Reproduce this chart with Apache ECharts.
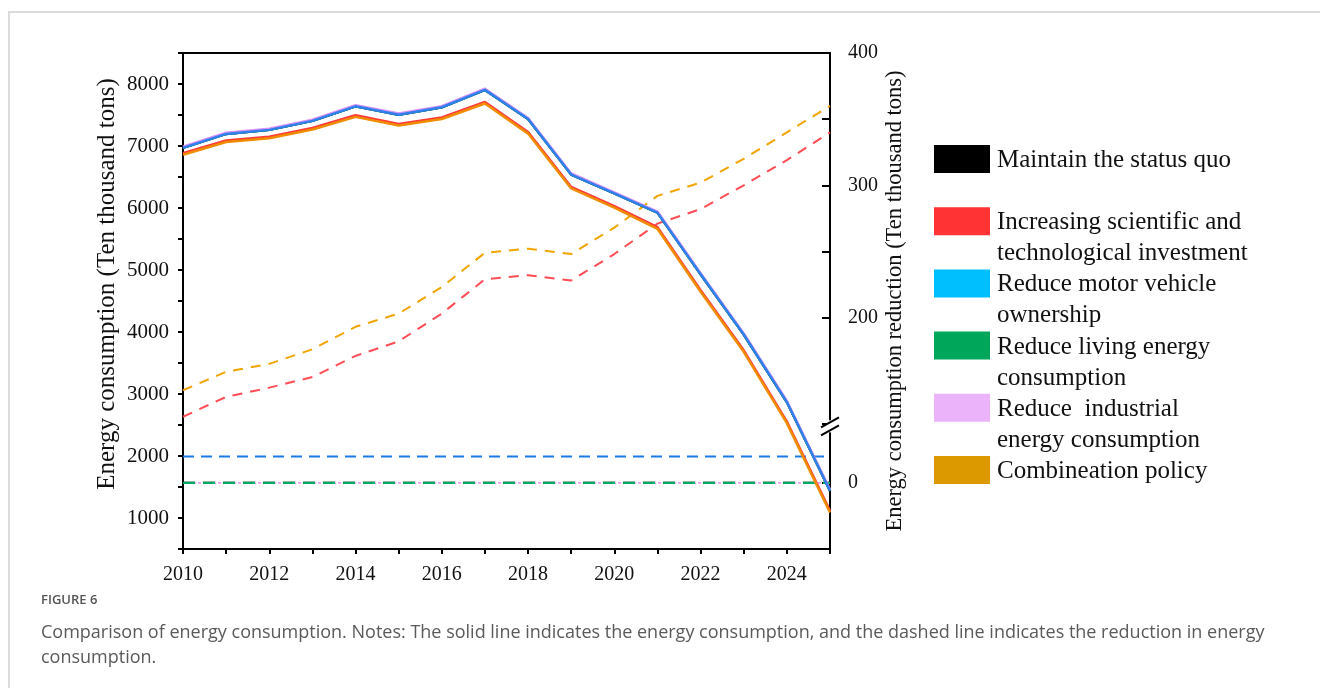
<!DOCTYPE html>
<html>
<head>
<meta charset="utf-8">
<script src="https://cdn.jsdelivr.net/npm/echarts@6/dist/echarts.min.js"></script>
<style>
  html, body { margin: 0; padding: 0; background: #ffffff; }
  #chart { width: 1320px; height: 688px; }
</style>
</head>
<body>
<div id="chart"></div>
<script>
// Years on the horizontal axis
const years = ['2010', '2011', '2012', '2013', '2014', '2015', '2016', '2017',
               '2018', '2019', '2020', '2021', '2022', '2023', '2024', '2025'];

// Energy consumption (solid lines, left axis, ten thousand tons)
const statusQuoUse   = [6970, 7195, 7260, 7405, 7640, 7505, 7625, 7905, 7435, 6540, 6235, 5925, 4930, 3960, 2870, 1440];
const scienceUse     = [6885, 7090, 7150, 7290, 7495, 7355, 7460, 7710, 7225, 6340, 6030, 5690, 4675, 3705, 2555, 1115];
const vehicleUse     = [6970, 7195, 7260, 7405, 7640, 7505, 7625, 7905, 7435, 6540, 6235, 5925, 4930, 3960, 2870, 1440];
const livingUse      = [6970, 7195, 7260, 7405, 7640, 7505, 7625, 7905, 7435, 6540, 6235, 5925, 4930, 3960, 2870, 1440];
const industrialUse  = [6988, 7213, 7278, 7423, 7658, 7523, 7643, 7923, 7453, 6558, 6253, 5943, 4948, 3978, 2888, 1458];
const combinedUse    = [6860, 7065, 7125, 7265, 7470, 7330, 7435, 7685, 7200, 6315, 6005, 5665, 4650, 3680, 2530, 1090];

// Reduction in energy consumption (dashed lines, right axis, ten thousand tons)
const statusQuoCut   = [0, 0, 0, 0, 0, 0, 0, 0, 0, 0, 0, 0, 0, 0, 0, 0];
const scienceCut     = [125, 140, 147, 155, 171, 182, 203, 229, 232, 228, 248, 271, 282, 300, 319, 340];
const vehicleCut     = [20, 20, 20, 20, 20, 20, 20, 20, 20, 20, 20, 20, 20, 20, 20, 20];
const livingCut      = [0, 0, 0, 0, 0, 0, 0, 0, 0, 0, 0, 0, 0, 0, 0, 0];
const industrialCut  = [0, 0, 0, 0, 0, 0, 0, 0, 0, 0, 0, 0, 0, 0, 0, 0];
const combinedCut    = [145, 159, 165, 176, 193, 203, 223, 249, 252, 248, 268, 292, 302, 320, 340, 360];

// Policy scenarios and their legend text (wrapped)
const policies = [
  'Maintain the status quo',
  'Increasing scientific and technological investment',
  'Reduce motor vehicle ownership',
  'Reduce living energy consumption',
  'Reduce  industrial energy consumption',
  'Combineation policy'
];
const legendLines = [
  'Maintain the status quo\n ',
  'Increasing scientific and\ntechnological investment',
  'Reduce motor vehicle\nownership',
  'Reduce living energy\nconsumption',
  'Reduce  industrial\nenergy consumption',
  'Combineation policy\n '
];
const swatchColors = ['#000000', '#ff3333', '#00bfff', '#00a65a', '#ebb4fa', '#dd9900'];

// Tick labels
const leftLabels  = [1000, 2000, 3000, 4000, 5000, 6000, 7000, 8000];
const rightLabels = [0, 200, 300, 400];

// Collapsed stretch of the reduction axis
const breakStart = 45;
const breakEnd = 120;

const serif = 'Liberation Serif';

function solid(name, data, color, width) {
  return {
    name, type: 'line', data, xAxisIndex: 0, yAxisIndex: 0,
    symbol: 'none', silent: true,
    lineStyle: { color, width }, itemStyle: { color }
  };
}
function dashed(name, data, color, dash, width) {
  return {
    name, type: 'line', data, xAxisIndex: 0, yAxisIndex: 1,
    symbol: 'none', silent: true,
    lineStyle: { color, width, type: dash }, itemStyle: { color }
  };
}

const chart = echarts.init(document.getElementById('chart'), null, { renderer: 'canvas' });

const option = {
  animation: false,
  backgroundColor: '#ffffff',
  title: {
    left: 41, top: 594, padding: 0,
    text: 'FIGURE 6',
    textStyle: { fontFamily: 'Open Sans', fontSize: 13, fontWeight: 600, color: '#555555' },
    subtext: 'Comparison of energy consumption. Notes: The solid line indicates the energy consumption, and the dashed line indicates the reduction in energy\nconsumption.',
    subtextStyle: { fontFamily: 'Open Sans', fontSize: 18, lineHeight: 25, color: '#5a5a5a' },
    itemGap: 13
  },
  grid: { left: 180, right: 490, top: 53, bottom: 139, containLabel: false },
  legend: {
    orient: 'vertical', left: 934, top: 145, padding: 0,
    itemWidth: 56, itemHeight: 62, itemGap: 0.2,
    icon: 'path://M0,0L56,0L56,28L0,28Z M0,62L0.01,62',
    itemStyle: { borderWidth: 0 },
    selectedMode: false,
    textStyle: { fontFamily: serif, fontSize: 25, lineHeight: 31, color: '#111111', padding: [0, 0, 0, 2] },
    formatter: name => legendLines[policies.indexOf(name)],
    data: policies.map((n, i) => ({ name: n, itemStyle: { color: swatchColors[i] } }))
  },
  xAxis: [
    {
      type: 'category', data: years, boundaryGap: false, position: 'bottom',
      axisLine: { onZero: false, lineStyle: { color: '#000', width: 2 } },
      axisTick: { show: true, interval: 0, length: 5, lineStyle: { color: '#000', width: 2 } },
      axisLabel: { interval: 1, margin: 16, fontFamily: serif, fontSize: 20, color: '#111' },
      splitLine: { show: false }
    },
    {
      type: 'category', data: years, boundaryGap: false, position: 'top',
      axisLine: { onZero: false, lineStyle: { color: '#000', width: 2 } },
      axisTick: { show: false }, axisLabel: { show: false }, splitLine: { show: false }
    }
  ],
  yAxis: [
    {
      type: 'value', min: 500, max: 8500, interval: 500, position: 'left',
      axisLine: { show: true, onZero: false, lineStyle: { color: '#000', width: 2 } },
      axisTick: { show: true, length: 5, lineStyle: { color: '#000', width: 2 } },
      axisLabel: {
        margin: 14, fontFamily: serif, fontSize: 21, color: '#111',
        formatter: v => leftLabels.includes(v) ? String(v) : ''
      },
      splitLine: { show: false },
      name: 'Energy consumption (Ten thousand tons)',
      nameLocation: 'middle', nameGap: 63,
      nameTextStyle: { fontFamily: serif, fontSize: 25, color: '#111', padding: [0, 0, 0, 34] }
    },
    {
      type: 'value', min: -50, max: 400, interval: 50, position: 'right',
      breaks: [{ start: breakStart, end: breakEnd, gap: 0 }],
      breakArea: { show: false },
      axisLine: { show: true, onZero: false, lineStyle: { color: '#000', width: 2 } },
      axisTick: { show: true, inside: true, length: 8, lineStyle: { color: '#000', width: 2 } },
      axisLabel: {
        margin: 18, fontFamily: serif, fontSize: 20, color: '#111',
        formatter: v => rightLabels.includes(v) ? String(v) : ''
      },
      splitLine: { show: false },
      name: 'Energy consumption reduction (Ten thousand tons)',
      nameLocation: 'middle', nameGap: 54,
      nameTextStyle: { fontFamily: serif, fontSize: 22.5, color: '#111' }
    }
  ],
  series: [
    // reductions
    dashed(policies[0], statusQuoCut, '#000000', [12, 8], 2),
    dashed(policies[4], industrialCut, '#f0a0f0', [3, 2], 1.6),
    dashed(policies[3], livingCut, '#00a862', [12, 8], 2.2),
    dashed(policies[2], vehicleCut, '#1a7be6', [11, 7], 2),
    dashed(policies[1], scienceCut, '#ff4d55', [10, 8], 2),
    dashed(policies[5], combinedCut, '#f0a500', [10, 8], 2),
    // consumption
    solid(policies[0], statusQuoUse, '#000000', 2.5),
    solid(policies[3], livingUse, '#00a65a', 2.5),
    solid(policies[4], industrialUse, '#d890f5', 2.5),
    solid(policies[2], vehicleUse, '#2f80ed', 2.5),
    solid(policies[1], scienceUse, '#ff3a3a', 2.5),
    solid(policies[5], combinedUse, '#f08c00', 2.5)
  ]
};

chart.setOption(option);

// Page frame and the "//" mark where the reduction axis is broken
const by = chart.convertToPixel({ yAxisIndex: 1 }, breakStart);
const bx = chart.convertToPixel({ xAxisIndex: 0 }, years[years.length - 1]);
chart.setOption({
  graphic: [
    {
      id: 'frame', type: 'rect', silent: true, z: 0,
      shape: { x: 9, y: 12, width: 1400, height: 800 },
      style: { fill: 'none', stroke: '#dcdcdc', lineWidth: 2 }
    },
    {
      id: 'gap', type: 'rect', silent: true, z: 100,
      shape: { x: bx - 3, y: by - 3, width: 6, height: 12 },
      style: { fill: '#ffffff' }
    },
    {
      id: 'slash1', type: 'line', silent: true, z: 101,
      shape: { x1: bx - 9, y1: by + 4, x2: bx + 9, y2: by - 6 },
      style: { stroke: '#000', lineWidth: 2 }
    },
    {
      id: 'slash2', type: 'line', silent: true, z: 101,
      shape: { x1: bx - 9, y1: by + 12, x2: bx + 9, y2: by + 2 },
      style: { stroke: '#000', lineWidth: 2 }
    }
  ]
});
</script>
</body>
</html>
